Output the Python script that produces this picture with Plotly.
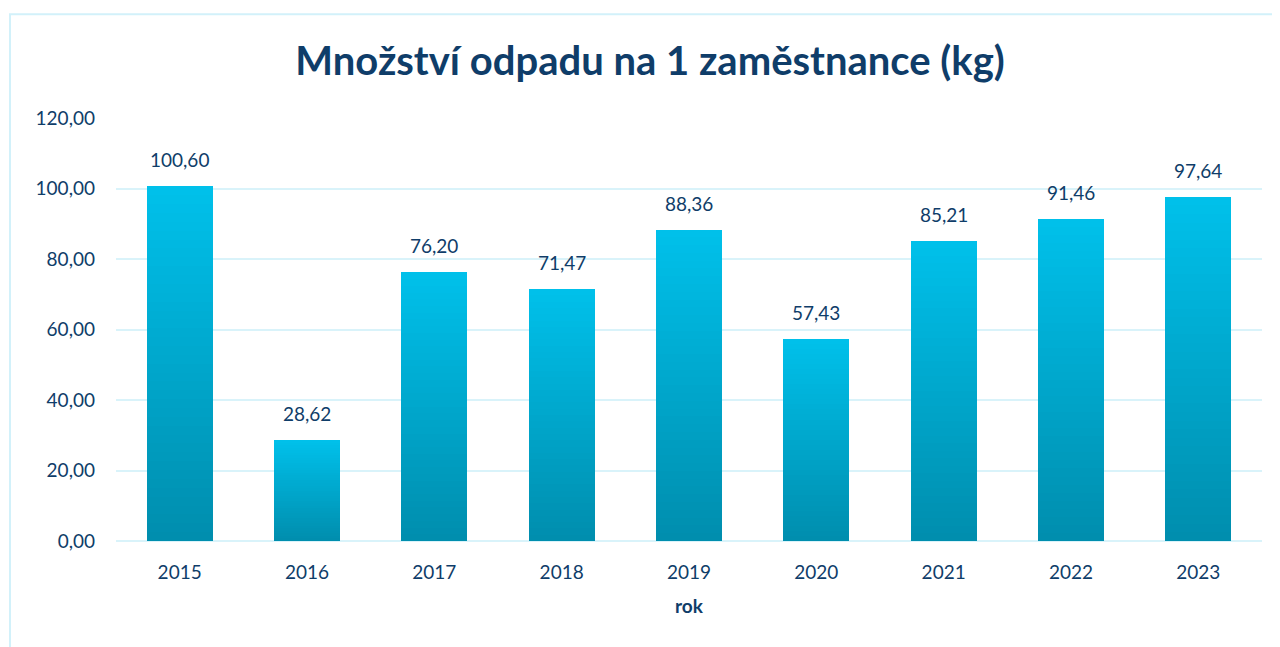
import plotly.graph_objects as go

years = ["2015", "2016", "2017", "2018", "2019", "2020", "2021", "2022", "2023"]
values = [100.60, 28.62, 76.20, 71.47, 88.36, 57.43, 85.21, 91.46, 97.64]
value_labels = ["100,60", "28,62", "76,20", "71,47", "88,36", "57,43", "85,21", "91,46", "97,64"]
y_ticks = [0, 20, 40, 60, 80, 100, 120]
y_tick_labels = ["0,00", "20,00", "40,00", "60,00", "80,00", "100,00", "120,00"]

TEXT = "#0f3d69"
FONT = "Lato"
top_rgb = (0, 192, 234)
bot_rgb = (0, 142, 174)
N = 40
pos = list(range(len(years)))

fig = go.Figure()
for i in range(N):
    t = i / (N - 1)
    c = tuple(round(bot_rgb[k] + (top_rgb[k] - bot_rgb[k]) * t) for k in range(3))
    fig.add_trace(go.Bar(
        x=pos, y=[v / N for v in values],
        marker=dict(color="rgb(%d,%d,%d)" % c, line=dict(width=0)),
        width=0.52, showlegend=False, hoverinfo="skip",
    ))

for p, v, lab in zip(pos, values, value_labels):
    fig.add_annotation(x=p, y=v, xref="x", yref="y", text=lab, showarrow=False, yanchor="bottom",
                       yshift=13, font=dict(family=FONT, size=19, color=TEXT))

fig.add_shape(type="rect", xref="paper", yref="paper", x0=-0.0925, x1=1.3,
              y0=-0.6, y1=1.245, line=dict(color="#d2f1fa", width=2), layer="below")

fig.update_layout(
    width=1280, height=647,
    barmode="stack",
    paper_bgcolor="white", plot_bgcolor="white",
    margin=dict(l=108, r=26, t=110, b=114),
    title=dict(text="<b>Množství odpadu na 1 zaměstnance (kg)</b>", x=0.5016, xanchor="center",
               y=0.918, yanchor="middle", font=dict(family=FONT, size=40, color=TEXT)),
    font=dict(family=FONT, color=TEXT),
    xaxis=dict(range=[-0.5, len(years) - 0.5], tickvals=pos, ticktext=years,
               showgrid=False, showline=False, zeroline=False, ticks="",
               tickfont=dict(family=FONT, size=19, color=TEXT), ticklabelstandoff=18,
               title=dict(text="<b>rok</b>", font=dict(family=FONT, size=19, color=TEXT), standoff=17)),
    yaxis=dict(range=[0, 120], tickvals=y_ticks, ticktext=y_tick_labels,
               showgrid=True, gridcolor="#d9f3fa", gridwidth=2, zeroline=True,
               zerolinecolor="#d9f3fa", zerolinewidth=2, showline=False, ticks="",
               tickfont=dict(family=FONT, size=19, color=TEXT), ticklabelstandoff=20),
)

fig.write_html("out.html")
